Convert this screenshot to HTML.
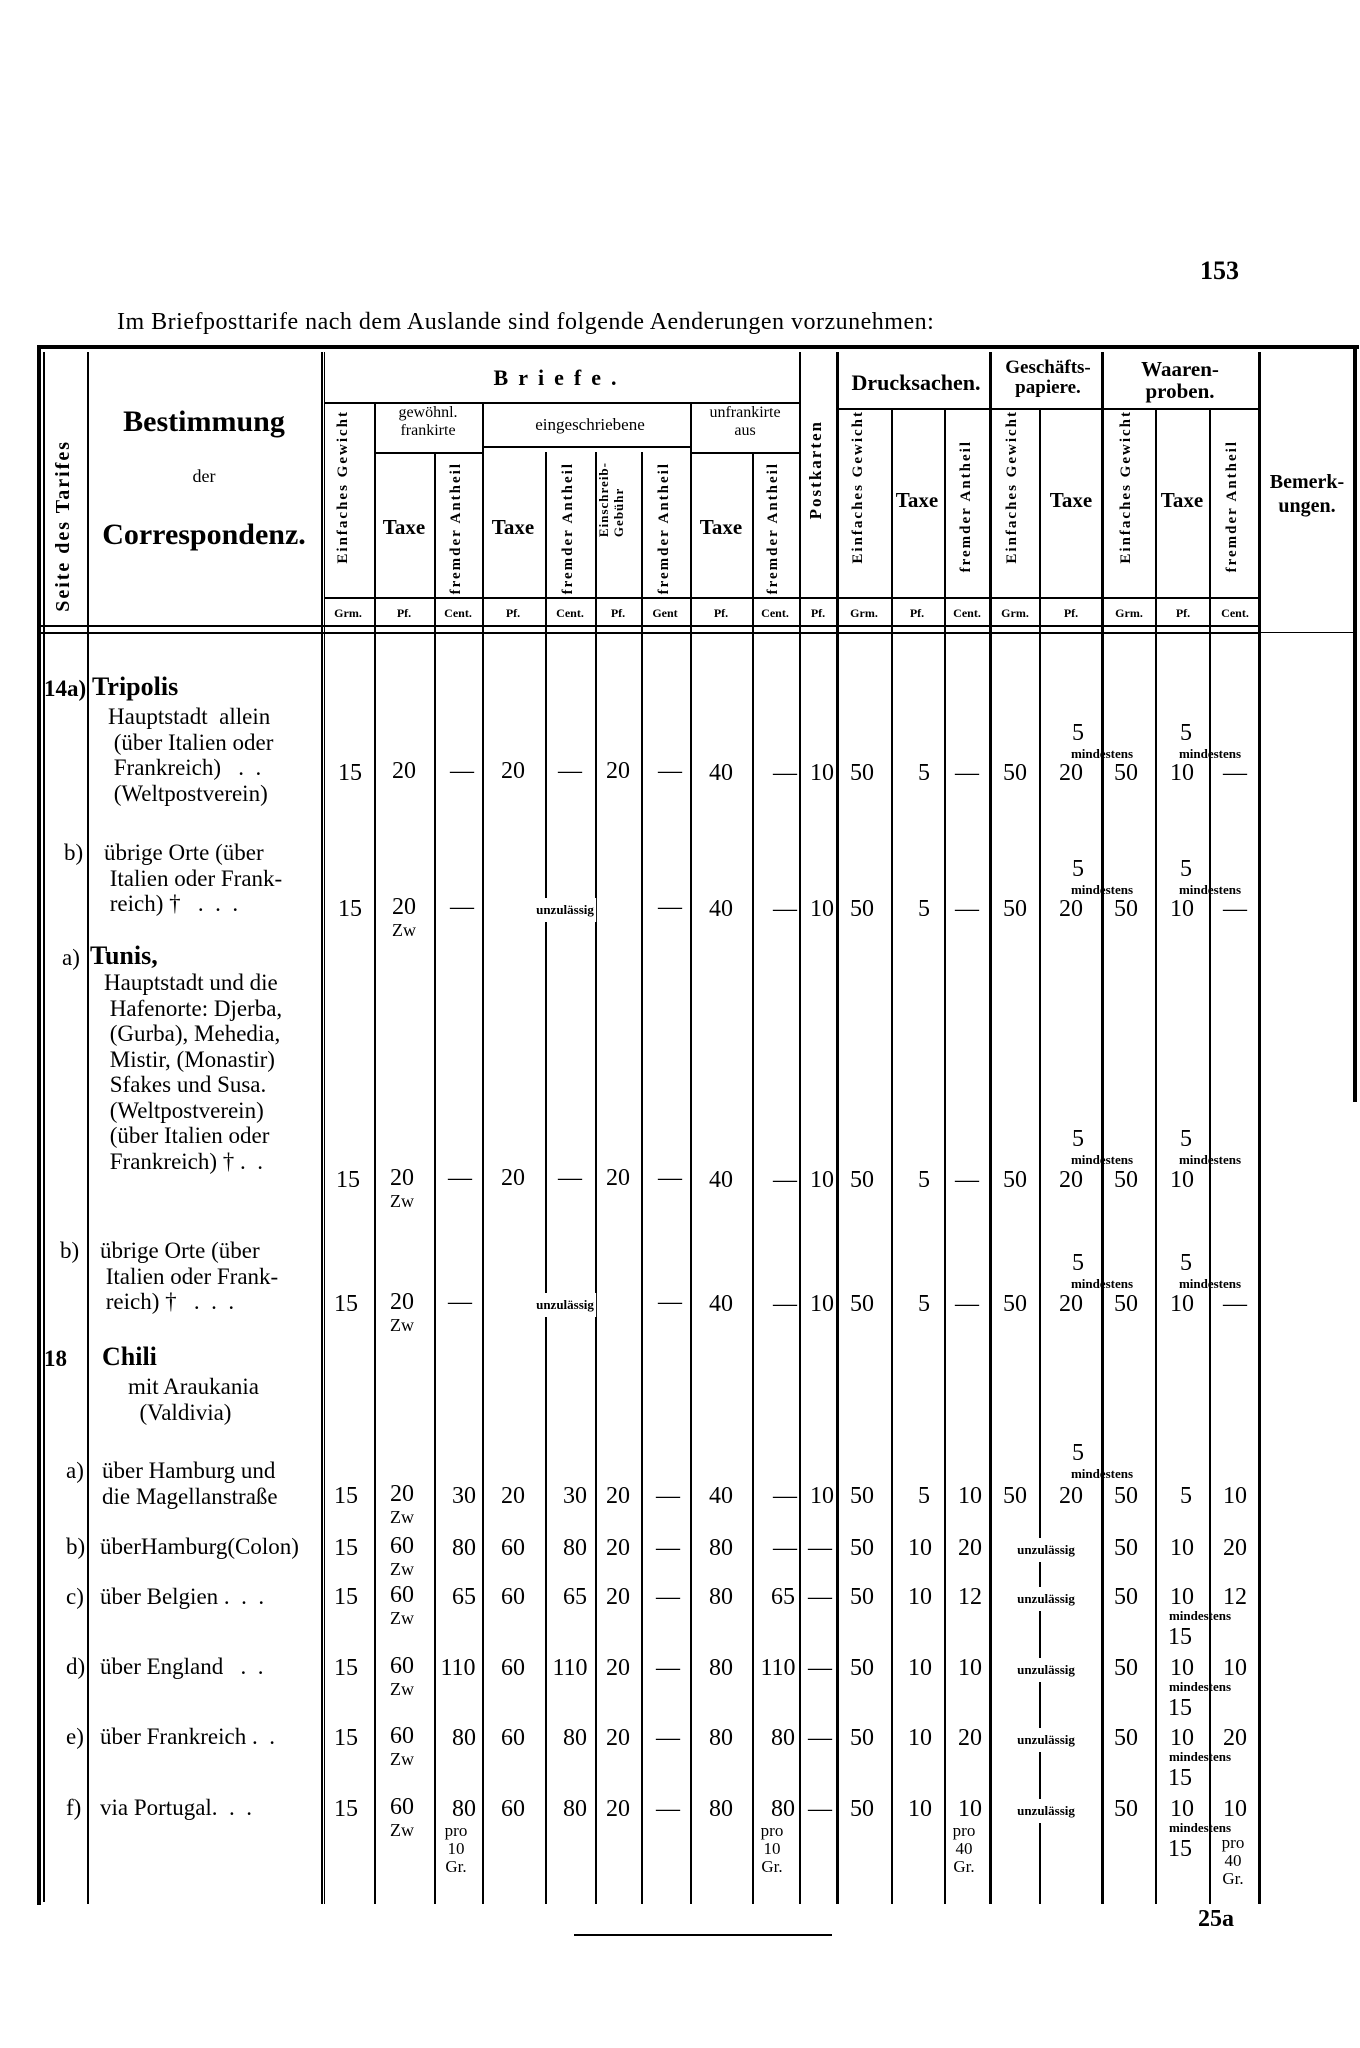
<!DOCTYPE html>
<html><head><meta charset="utf-8"><style>
body{margin:0;background:#fff}
#p{position:relative;width:1360px;height:2048px;overflow:hidden;background:#fff;font-family:"Liberation Serif",serif;color:#000}
.v{position:absolute;width:2px;background:#000}
.h{position:absolute;height:2px;background:#000}
.t{position:absolute;white-space:nowrap;font-size:24px;line-height:26px;transform:translateX(-50%)}
.l{position:absolute;white-space:nowrap;font-size:23px;line-height:25.5px}
.s{position:absolute;white-space:nowrap;font-size:13px;font-weight:bold;transform:translateX(-50%)}
.uz{background:#fff;padding:4px 2px}
.z{position:absolute;white-space:nowrap;font-size:18px;transform:translateX(-50%)}
.vt{position:absolute;writing-mode:vertical-rl;transform:rotate(180deg);white-space:nowrap;font-size:17px;font-weight:bold;letter-spacing:2px}
.hd{position:absolute;white-space:nowrap;transform:translateX(-50%);text-align:center}
.u{position:absolute;font-size:12px;white-space:nowrap;transform:translateX(-50%);font-weight:bold}
</style></head><body><div id="p">
<div class="l" style="left:1200px;top:258px;font-size:26px;font-weight:bold">153</div>
<div class="l" style="left:117px;top:310px;font-size:24px;letter-spacing:0.5px">Im Briefposttarife nach dem Auslande sind folgende Aenderungen vorzunehmen:</div>

<div class="h" style="left:37px;top:345px;width:1322px;height:4px"></div>
<div class="v" style="left:37px;top:345px;height:1560px;width:4px"></div>
<div class="v" style="left:43px;top:352px;height:1550px"></div>
<div class="v" style="left:1353px;top:345px;height:757px;width:4px"></div>
<div class="h" style="left:41px;top:625px;width:1218px"></div>
<div class="h" style="left:41px;top:632px;width:1218px"></div>
<div class="h" style="left:1260px;top:632px;width:95px;height:1px"></div>

<div class="v" style="left:87px;top:352px;height:1552px"></div>
<div class="v" style="left:321px;top:352px;height:1552px"></div>
<div class="v" style="left:324px;top:352px;height:1552px;width:1px"></div>
<div class="v" style="left:374px;top:402px;height:1502px"></div>
<div class="v" style="left:434px;top:452px;height:1452px"></div>
<div class="v" style="left:482px;top:402px;height:1502px"></div>
<div class="v" style="left:545px;top:452px;height:1452px"></div>
<div class="v" style="left:595px;top:452px;height:1452px"></div>
<div class="v" style="left:641px;top:452px;height:1452px"></div>
<div class="v" style="left:690px;top:402px;height:1502px"></div>
<div class="v" style="left:752px;top:452px;height:1452px"></div>
<div class="v" style="left:799px;top:352px;height:1552px"></div>
<div class="v" style="left:836px;top:352px;height:1552px;width:3px"></div>
<div class="v" style="left:891px;top:410px;height:1494px"></div>
<div class="v" style="left:944px;top:410px;height:1494px"></div>
<div class="v" style="left:989px;top:352px;height:1552px;width:3px"></div>
<div class="v" style="left:1039px;top:410px;height:1494px"></div>
<div class="v" style="left:1101px;top:352px;height:1552px;width:3px"></div>
<div class="v" style="left:1155px;top:410px;height:1494px"></div>
<div class="v" style="left:1209px;top:410px;height:1494px"></div>
<div class="v" style="left:1258px;top:352px;height:1552px;width:3px"></div>
<div class="h" style="left:324px;top:402px;width:475px"></div>
<div class="h" style="left:374px;top:452px;width:108px"></div>
<div class="h" style="left:482px;top:446px;width:208px"></div>
<div class="h" style="left:690px;top:452px;width:109px"></div>
<div class="h" style="left:839px;top:408px;width:420px"></div>
<div class="h" style="left:324px;top:597px;width:935px"></div>

<div class="vt" style="left:52px;top:440px;font-size:20px">Seite des Tarifes</div>
<div class="hd" style="left:204px;top:405px;font-size:30px;font-weight:bold">Bestimmung</div>
<div class="hd" style="left:204px;top:466px;font-size:18px">der</div>
<div class="hd" style="left:204px;top:518px;font-size:30px;font-weight:bold">Correspondenz.</div>
<div class="hd" style="left:560px;top:365px;font-size:22px;font-weight:bold;letter-spacing:10px">Briefe.</div>
<div class="hd" style="left:916px;top:370px;font-size:22px;font-weight:bold">Drucksachen.</div>
<div class="hd" style="left:1048px;top:358px;font-size:19px;line-height:20px;font-weight:bold">Geschäfts-<br>papiere.</div>
<div class="hd" style="left:1180px;top:358px;font-size:21px;line-height:22px;font-weight:bold">Waaren-<br>proben.</div>
<div class="hd" style="left:1307px;top:470px;font-size:20px;line-height:24px;font-weight:bold">Bemerk-<br>ungen.</div>
<div class="hd" style="left:428px;top:404px;font-size:16px;line-height:18px">gewöhnl.<br>frankirte</div>
<div class="hd" style="left:590px;top:415px;font-size:17px">eingeschriebene</div>
<div class="hd" style="left:745px;top:404px;font-size:16px;line-height:18px">unfrankirte<br>aus</div>
<div class="vt" style="left:335px;top:410px;font-size:15px">Einfaches Gewicht</div>
<div class="hd" style="left:404px;top:515px;font-size:21px;font-weight:bold">Taxe</div>
<div class="vt" style="left:448px;top:462px;font-size:15px">fremder Antheil</div>
<div class="hd" style="left:513px;top:515px;font-size:21px;font-weight:bold">Taxe</div>
<div class="vt" style="left:560px;top:462px;font-size:15px">fremder Antheil</div>
<div class="vt" style="left:596px;top:462px;font-size:13px;line-height:15px;letter-spacing:1px">Einschreib-<br>Gebühr</div>
<div class="vt" style="left:656px;top:462px;font-size:15px">fremder Antheil</div>
<div class="hd" style="left:721px;top:515px;font-size:21px;font-weight:bold">Taxe</div>
<div class="vt" style="left:765px;top:462px;font-size:15px">fremder Antheil</div>
<div class="vt" style="left:806px;top:420px;font-size:17px">Postkarten</div>
<div class="vt" style="left:850px;top:410px;font-size:15px">Einfaches Gewicht</div>
<div class="hd" style="left:917px;top:488px;font-size:21px;font-weight:bold">Taxe</div>
<div class="vt" style="left:958px;top:440px;font-size:15px">fremder Antheil</div>
<div class="vt" style="left:1004px;top:410px;font-size:15px">Einfaches Gewicht</div>
<div class="hd" style="left:1071px;top:488px;font-size:21px;font-weight:bold">Taxe</div>
<div class="vt" style="left:1118px;top:410px;font-size:15px">Einfaches Gewicht</div>
<div class="hd" style="left:1182px;top:488px;font-size:21px;font-weight:bold">Taxe</div>
<div class="vt" style="left:1224px;top:440px;font-size:15px">fremder Antheil</div>
<div class="u" style="left:348px;top:606px">Grm.</div><div class="u" style="left:404px;top:606px">Pf.</div><div class="u" style="left:458px;top:606px">Cent.</div><div class="u" style="left:513px;top:606px">Pf.</div><div class="u" style="left:570px;top:606px">Cent.</div><div class="u" style="left:618px;top:606px">Pf.</div><div class="u" style="left:665px;top:606px">Gent</div><div class="u" style="left:721px;top:606px">Pf.</div><div class="u" style="left:775px;top:606px">Cent.</div><div class="u" style="left:818px;top:606px">Pf.</div><div class="u" style="left:864px;top:606px">Grm.</div><div class="u" style="left:917px;top:606px">Pf.</div><div class="u" style="left:967px;top:606px">Cent.</div><div class="u" style="left:1015px;top:606px">Grm.</div><div class="u" style="left:1071px;top:606px">Pf.</div><div class="u" style="left:1129px;top:606px">Grm.</div><div class="u" style="left:1183px;top:606px">Pf.</div><div class="u" style="left:1235px;top:606px">Cent.</div>

<div class="l" style="left:44px;top:676px;font-weight:bold">14a)</div>
<div class="l" style="left:92px;top:674px;font-size:26px;font-weight:bold">Tripolis</div>
<div class="l" style="left:108px;top:704px">Hauptstadt &nbsp;allein<br>&nbsp;(über Italien oder<br>&nbsp;Frankreich) &nbsp;&nbsp;. &nbsp;.<br>&nbsp;(Weltpostverein)</div>
<div class="l" style="left:64px;top:840px">b)</div>
<div class="l" style="left:104px;top:840px">übrige Orte (über<br>&nbsp;Italien oder Frank-<br>&nbsp;reich) † &nbsp;&nbsp;. &nbsp;. &nbsp;.</div>
<div class="l" style="left:62px;top:945px">a)</div>
<div class="l" style="left:90px;top:943px;font-size:26px;font-weight:bold">Tunis,</div>
<div class="l" style="left:104px;top:970px">Hauptstadt und die<br>&nbsp;Hafenorte: Djerba,<br>&nbsp;(Gurba), Mehedia,<br>&nbsp;Mistir, (Monastir)<br>&nbsp;Sfakes und Susa.<br>&nbsp;(Weltpostverein)<br>&nbsp;(über Italien oder<br>&nbsp;Frankreich) † . &nbsp;.</div>
<div class="l" style="left:60px;top:1238px">b)</div>
<div class="l" style="left:100px;top:1238px">übrige Orte (über<br>&nbsp;Italien oder Frank-<br>&nbsp;reich) † &nbsp;&nbsp;. &nbsp;. &nbsp;.</div>
<div class="l" style="left:44px;top:1346px;font-weight:bold">18</div>
<div class="l" style="left:102px;top:1344px;font-size:26px;font-weight:bold">Chili</div>
<div class="l" style="left:128px;top:1374px">mit Araukania<br>&nbsp;&nbsp;(Valdivia)</div>
<div class="l" style="left:66px;top:1458px">a)</div>
<div class="l" style="left:102px;top:1458px">über Hamburg und<br>die Magellanstraße</div>
<div class="l" style="left:66px;top:1534px">b)</div><div class="l" style="left:100px;top:1534px">überHamburg(Colon)</div>
<div class="l" style="left:66px;top:1584px">c)</div><div class="l" style="left:100px;top:1584px">über Belgien . &nbsp;. &nbsp;.</div>
<div class="l" style="left:66px;top:1654px">d)</div><div class="l" style="left:100px;top:1654px">über England &nbsp;&nbsp;. &nbsp;.</div>
<div class="l" style="left:66px;top:1724px">e)</div><div class="l" style="left:100px;top:1724px">über Frankreich . &nbsp;.</div>
<div class="l" style="left:66px;top:1795px">f)</div><div class="l" style="left:100px;top:1795px">via Portugal. &nbsp;. &nbsp;.</div>

<div class="t" style="left:350px;top:760px">15</div><div class="t" style="left:404px;top:758px">20</div><div class="t" style="left:462px;top:758px">—</div><div class="t" style="left:513px;top:758px">20</div><div class="t" style="left:570px;top:758px">—</div><div class="t" style="left:618px;top:758px">20</div><div class="t" style="left:670px;top:758px">—</div><div class="t" style="left:721px;top:760px">40</div><div class="t" style="left:785px;top:760px">—</div><div class="t" style="left:822px;top:760px">10</div><div class="t" style="left:862px;top:760px">50</div><div class="t" style="left:924px;top:760px">5</div><div class="t" style="left:967px;top:760px">—</div><div class="t" style="left:1015px;top:760px">50</div><div class="t" style="left:1071px;top:760px">20</div><div class="t" style="left:1126px;top:760px">50</div><div class="t" style="left:1182px;top:760px">10</div><div class="t" style="left:1235px;top:760px">—</div>
<div class="t" style="left:1078px;top:720px">5</div><div class="s" style="left:1102px;top:746px">mindestens</div><div class="t" style="left:1186px;top:720px">5</div><div class="s" style="left:1210px;top:746px">mindestens</div>
<div class="t" style="left:350px;top:896px">15</div><div class="t" style="left:404px;top:894px">20</div><div class="z" style="left:404px;top:920px">Zw</div><div class="t" style="left:462px;top:894px">—</div><div class="s uz" style="left:565px;top:898px">unzulässig</div><div class="t" style="left:670px;top:894px">—</div><div class="t" style="left:721px;top:896px">40</div><div class="t" style="left:785px;top:896px">—</div><div class="t" style="left:822px;top:896px">10</div><div class="t" style="left:862px;top:896px">50</div><div class="t" style="left:924px;top:896px">5</div><div class="t" style="left:967px;top:896px">—</div><div class="t" style="left:1015px;top:896px">50</div><div class="t" style="left:1071px;top:896px">20</div><div class="t" style="left:1126px;top:896px">50</div><div class="t" style="left:1182px;top:896px">10</div><div class="t" style="left:1235px;top:896px">—</div>
<div class="t" style="left:1078px;top:856px">5</div><div class="s" style="left:1102px;top:882px">mindestens</div><div class="t" style="left:1186px;top:856px">5</div><div class="s" style="left:1210px;top:882px">mindestens</div>
<div class="t" style="left:348px;top:1167px">15</div><div class="t" style="left:402px;top:1165px">20</div><div class="z" style="left:402px;top:1191px">Zw</div><div class="t" style="left:460px;top:1165px">—</div><div class="t" style="left:513px;top:1165px">20</div><div class="t" style="left:570px;top:1165px">—</div><div class="t" style="left:618px;top:1165px">20</div><div class="t" style="left:670px;top:1165px">—</div><div class="t" style="left:721px;top:1167px">40</div><div class="t" style="left:785px;top:1167px">—</div><div class="t" style="left:822px;top:1167px">10</div><div class="t" style="left:862px;top:1167px">50</div><div class="t" style="left:924px;top:1167px">5</div><div class="t" style="left:967px;top:1167px">—</div><div class="t" style="left:1015px;top:1167px">50</div><div class="t" style="left:1071px;top:1167px">20</div><div class="t" style="left:1126px;top:1167px">50</div><div class="t" style="left:1182px;top:1167px">10</div>
<div class="t" style="left:1078px;top:1126px">5</div><div class="s" style="left:1102px;top:1152px">mindestens</div><div class="t" style="left:1186px;top:1126px">5</div><div class="s" style="left:1210px;top:1152px">mindestens</div>
<div class="t" style="left:346px;top:1291px">15</div><div class="t" style="left:402px;top:1289px">20</div><div class="z" style="left:402px;top:1315px">Zw</div><div class="t" style="left:460px;top:1289px">—</div><div class="s uz" style="left:565px;top:1293px">unzulässig</div><div class="t" style="left:670px;top:1289px">—</div><div class="t" style="left:721px;top:1291px">40</div><div class="t" style="left:785px;top:1291px">—</div><div class="t" style="left:822px;top:1291px">10</div><div class="t" style="left:862px;top:1291px">50</div><div class="t" style="left:924px;top:1291px">5</div><div class="t" style="left:967px;top:1291px">—</div><div class="t" style="left:1015px;top:1291px">50</div><div class="t" style="left:1071px;top:1291px">20</div><div class="t" style="left:1126px;top:1291px">50</div><div class="t" style="left:1182px;top:1291px">10</div><div class="t" style="left:1235px;top:1291px">—</div>
<div class="t" style="left:1078px;top:1250px">5</div><div class="s" style="left:1102px;top:1276px">mindestens</div><div class="t" style="left:1186px;top:1250px">5</div><div class="s" style="left:1210px;top:1276px">mindestens</div>
<div class="t" style="left:346px;top:1483px">15</div><div class="t" style="left:402px;top:1481px">20</div><div class="z" style="left:402px;top:1507px">Zw</div><div class="t" style="left:464px;top:1483px">30</div><div class="t" style="left:513px;top:1483px">20</div><div class="t" style="left:575px;top:1483px">30</div><div class="t" style="left:618px;top:1483px">20</div><div class="t" style="left:668px;top:1483px">—</div><div class="t" style="left:721px;top:1483px">40</div><div class="t" style="left:785px;top:1483px">—</div><div class="t" style="left:822px;top:1483px">10</div><div class="t" style="left:862px;top:1483px">50</div><div class="t" style="left:924px;top:1483px">5</div><div class="t" style="left:970px;top:1483px">10</div><div class="t" style="left:1015px;top:1483px">50</div><div class="t" style="left:1071px;top:1483px">20</div><div class="t" style="left:1126px;top:1483px">50</div><div class="t" style="left:1186px;top:1483px">5</div><div class="t" style="left:1235px;top:1483px">10</div>
<div class="t" style="left:1078px;top:1440px">5</div><div class="s" style="left:1102px;top:1466px">mindestens</div>
<div class="t" style="left:346px;top:1535px">15</div><div class="t" style="left:402px;top:1533px">60</div><div class="z" style="left:402px;top:1559px">Zw</div><div class="t" style="left:464px;top:1535px">80</div><div class="t" style="left:513px;top:1535px">60</div><div class="t" style="left:575px;top:1535px">80</div><div class="t" style="left:618px;top:1535px">20</div><div class="t" style="left:668px;top:1535px">—</div><div class="t" style="left:721px;top:1535px">80</div><div class="t" style="left:785px;top:1535px">—</div><div class="t" style="left:820px;top:1535px">—</div><div class="t" style="left:862px;top:1535px">50</div><div class="t" style="left:920px;top:1535px">10</div><div class="t" style="left:970px;top:1535px">20</div><div class="s uz" style="left:1046px;top:1538px">unzulässig</div><div class="t" style="left:1126px;top:1535px">50</div><div class="t" style="left:1182px;top:1535px">10</div><div class="t" style="left:1235px;top:1535px">20</div>
<div class="t" style="left:346px;top:1584px">15</div><div class="t" style="left:402px;top:1582px">60</div><div class="z" style="left:402px;top:1608px">Zw</div><div class="t" style="left:464px;top:1584px">65</div><div class="t" style="left:513px;top:1584px">60</div><div class="t" style="left:575px;top:1584px">65</div><div class="t" style="left:618px;top:1584px">20</div><div class="t" style="left:668px;top:1584px">—</div><div class="t" style="left:721px;top:1584px">80</div><div class="t" style="left:783px;top:1584px">65</div><div class="t" style="left:820px;top:1584px">—</div><div class="t" style="left:862px;top:1584px">50</div><div class="t" style="left:920px;top:1584px">10</div><div class="t" style="left:970px;top:1584px">12</div><div class="s uz" style="left:1046px;top:1587px">unzulässig</div><div class="t" style="left:1126px;top:1584px">50</div><div class="t" style="left:1182px;top:1584px">10</div><div class="t" style="left:1235px;top:1584px">12</div>
<div class="s" style="left:1200px;top:1608px">mindestens</div><div class="t" style="left:1180px;top:1624px">15</div>
<div class="t" style="left:346px;top:1655px">15</div><div class="t" style="left:402px;top:1653px">60</div><div class="z" style="left:402px;top:1679px">Zw</div><div class="t" style="left:458px;top:1655px">110</div><div class="t" style="left:513px;top:1655px">60</div><div class="t" style="left:570px;top:1655px">110</div><div class="t" style="left:618px;top:1655px">20</div><div class="t" style="left:668px;top:1655px">—</div><div class="t" style="left:721px;top:1655px">80</div><div class="t" style="left:778px;top:1655px">110</div><div class="t" style="left:820px;top:1655px">—</div><div class="t" style="left:862px;top:1655px">50</div><div class="t" style="left:920px;top:1655px">10</div><div class="t" style="left:970px;top:1655px">10</div><div class="s uz" style="left:1046px;top:1658px">unzulässig</div><div class="t" style="left:1126px;top:1655px">50</div><div class="t" style="left:1182px;top:1655px">10</div><div class="t" style="left:1235px;top:1655px">10</div>
<div class="s" style="left:1200px;top:1679px">mindestens</div><div class="t" style="left:1180px;top:1695px">15</div>
<div class="t" style="left:346px;top:1725px">15</div><div class="t" style="left:402px;top:1723px">60</div><div class="z" style="left:402px;top:1749px">Zw</div><div class="t" style="left:464px;top:1725px">80</div><div class="t" style="left:513px;top:1725px">60</div><div class="t" style="left:575px;top:1725px">80</div><div class="t" style="left:618px;top:1725px">20</div><div class="t" style="left:668px;top:1725px">—</div><div class="t" style="left:721px;top:1725px">80</div><div class="t" style="left:783px;top:1725px">80</div><div class="t" style="left:820px;top:1725px">—</div><div class="t" style="left:862px;top:1725px">50</div><div class="t" style="left:920px;top:1725px">10</div><div class="t" style="left:970px;top:1725px">20</div><div class="s uz" style="left:1046px;top:1728px">unzulässig</div><div class="t" style="left:1126px;top:1725px">50</div><div class="t" style="left:1182px;top:1725px">10</div><div class="t" style="left:1235px;top:1725px">20</div>
<div class="s" style="left:1200px;top:1749px">mindestens</div><div class="t" style="left:1180px;top:1765px">15</div>
<div class="t" style="left:346px;top:1796px">15</div><div class="t" style="left:402px;top:1794px">60</div><div class="z" style="left:402px;top:1820px">Zw</div><div class="t" style="left:464px;top:1796px">80</div><div class="t" style="left:513px;top:1796px">60</div><div class="t" style="left:575px;top:1796px">80</div><div class="t" style="left:618px;top:1796px">20</div><div class="t" style="left:668px;top:1796px">—</div><div class="t" style="left:721px;top:1796px">80</div><div class="t" style="left:783px;top:1796px">80</div><div class="t" style="left:820px;top:1796px">—</div><div class="t" style="left:862px;top:1796px">50</div><div class="t" style="left:920px;top:1796px">10</div><div class="t" style="left:970px;top:1796px">10</div><div class="s uz" style="left:1046px;top:1799px">unzulässig</div><div class="t" style="left:1126px;top:1796px">50</div><div class="t" style="left:1182px;top:1796px">10</div><div class="t" style="left:1235px;top:1796px">10</div>
<div class="z" style="left:456px;top:1822px;font-size:17px;line-height:18px;text-align:center">pro<br>10<br>Gr.</div>
<div class="z" style="left:772px;top:1822px;font-size:17px;line-height:18px;text-align:center">pro<br>10<br>Gr.</div>
<div class="z" style="left:964px;top:1822px;font-size:17px;line-height:18px;text-align:center">pro<br>40<br>Gr.</div>
<div class="s" style="left:1200px;top:1820px">mindestens</div><div class="t" style="left:1180px;top:1836px">15</div>
<div class="z" style="left:1233px;top:1834px;font-size:17px;line-height:18px;text-align:center">pro<br>40<br>Gr.</div>

<div class="l" style="left:1198px;top:1907px;font-size:24px;font-weight:bold">25a</div>
<div class="h" style="left:574px;top:1934px;width:258px"></div>
</div></body></html>
